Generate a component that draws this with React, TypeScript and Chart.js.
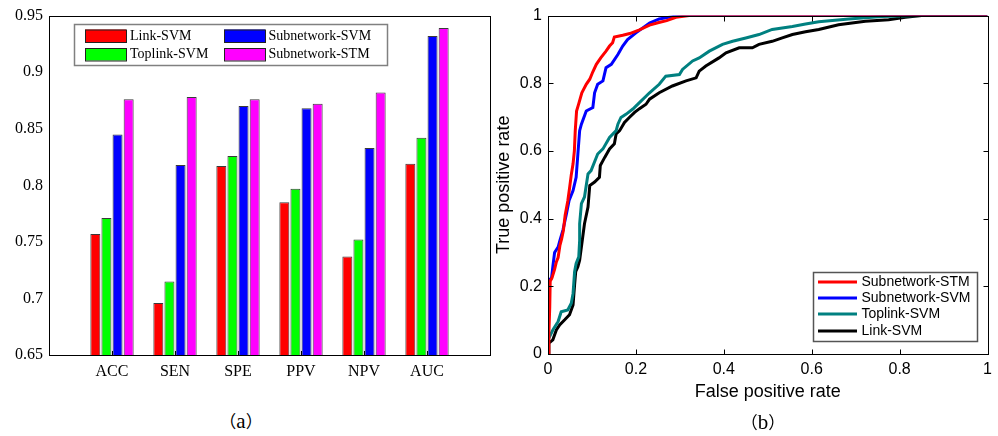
import React, { useEffect, useRef } from 'react';
import { Chart, registerables } from 'chart.js';

Chart.register(...registerables);

// ---------- Panel (a): bar chart data ----------
const categories = ['ACC', 'SEN', 'SPE', 'PPV', 'NPV', 'AUC'];
const linkSvm = [0.757, 0.696, 0.817, 0.785, 0.737, 0.819];
const toplinkSvm = [0.771, 0.715, 0.826, 0.797, 0.752, 0.842];
const subnetworkSvm = [0.845, 0.818, 0.870, 0.868, 0.833, 0.932];
const subnetworkStm = [0.876, 0.878, 0.876, 0.872, 0.882, 0.939];
const barNames = ['Link-SVM', 'Toplink-SVM', 'Subnetwork-SVM', 'Subnetwork-STM'];
const barColors = ['#ff0000', '#00ff00', '#0000ff', '#ff00ff'];
const barYMin = 0.65;
const barYMax = 0.95;
const barYStep = 0.05;

// ---------- Panel (b): ROC curve data ----------
const stmFpr = [0, 0.002, 0.004, 0.005, 0.009, 0.015, 0.019, 0.023, 0.027, 0.031, 0.035, 0.039, 0.045, 0.049, 0.053, 0.057, 0.06, 0.062, 0.065, 0.07, 0.077, 0.087, 0.095, 0.102, 0.11, 0.12, 0.132, 0.14, 0.147, 0.151, 0.17, 0.186, 0.208, 0.231, 0.25, 0.27, 0.291, 0.321, 1];
const stmTpr = [0, 0.06, 0.14, 0.215, 0.225, 0.25, 0.272, 0.285, 0.32, 0.34, 0.365, 0.41, 0.452, 0.49, 0.53, 0.562, 0.6, 0.66, 0.718, 0.74, 0.772, 0.797, 0.812, 0.834, 0.856, 0.875, 0.895, 0.91, 0.92, 0.937, 0.942, 0.947, 0.958, 0.972, 0.979, 0.985, 0.995, 1, 1];

const svmFpr = [0, 0, 0, 0.008, 0.011, 0.015, 0.023, 0.027, 0.034, 0.042, 0.048, 0.057, 0.064, 0.068, 0.072, 0.076, 0.087, 0.102, 0.106, 0.113, 0.125, 0.132, 0.144, 0.159, 0.17, 0.181, 0.2, 0.231, 0.253, 0.283, 0.295, 1];
const svmTpr = [0, 0.052, 0.218, 0.224, 0.258, 0.3, 0.316, 0.335, 0.366, 0.415, 0.454, 0.483, 0.522, 0.591, 0.66, 0.679, 0.718, 0.728, 0.772, 0.797, 0.807, 0.846, 0.856, 0.885, 0.91, 0.929, 0.949, 0.978, 0.99, 0.997, 1, 1];

const toplinkFpr = [0, 0, 0.011, 0.023, 0.03, 0.045, 0.053, 0.057, 0.0605, 0.064, 0.07, 0.072, 0.072, 0.076, 0.083, 0.091, 0.098, 0.113, 0.125, 0.14, 0.155, 0.159, 0.166, 0.178, 0.193, 0.208, 0.231, 0.253, 0.268, 0.299, 0.306, 0.329, 0.344, 0.367, 0.397, 0.42, 0.45, 0.48, 0.51, 0.556, 0.586, 0.616, 0.684, 0.76, 0.85, 1];
const toplinkTpr = [0, 0.042, 0.071, 0.096, 0.125, 0.13, 0.15, 0.179, 0.243, 0.268, 0.287, 0.336, 0.385, 0.444, 0.464, 0.532, 0.542, 0.591, 0.606, 0.64, 0.66, 0.679, 0.699, 0.709, 0.724, 0.743, 0.772, 0.797, 0.821, 0.826, 0.841, 0.866, 0.875, 0.895, 0.915, 0.924, 0.934, 0.944, 0.959, 0.968, 0.975, 0.982, 0.99, 0.997, 1, 1];

const linkFpr = [0, 0.002, 0.011, 0.019, 0.0265, 0.038, 0.049, 0.057, 0.0605, 0.063, 0.068, 0.072, 0.078, 0.083, 0.091, 0.095, 0.106, 0.117, 0.119, 0.129, 0.14, 0.151, 0.155, 0.163, 0.174, 0.185, 0.197, 0.208, 0.223, 0.231, 0.253, 0.283, 0.314, 0.337, 0.344, 0.359, 0.389, 0.405, 0.435, 0.465, 0.48, 0.51, 0.533, 0.556, 0.586, 0.616, 0.661, 0.722, 0.775, 0.813, 0.85, 1];
const linkTpr = [0, 0.032, 0.042, 0.071, 0.086, 0.101, 0.116, 0.145, 0.204, 0.243, 0.258, 0.277, 0.336, 0.385, 0.434, 0.498, 0.508, 0.522, 0.557, 0.581, 0.606, 0.621, 0.65, 0.66, 0.684, 0.699, 0.714, 0.725, 0.738, 0.753, 0.772, 0.792, 0.807, 0.816, 0.836, 0.851, 0.875, 0.89, 0.905, 0.905, 0.915, 0.924, 0.934, 0.944, 0.952, 0.959, 0.973, 0.983, 0.988, 0.995, 1, 1];

const rocNames = ['Subnetwork-STM', 'Subnetwork-SVM', 'Toplink-SVM', 'Link-SVM'];
const rocColors = ['#ff0000', '#0000ff', '#008080', '#000000'];
const rocTickStep = 0.2;

const SERIF = '"Liberation Serif", "Times New Roman", serif';
const SANS = '"Liberation Sans", Arial, sans-serif';

const barLegendPlugin = {
  id: 'barLegend',
  afterDraw(chart: any) {
    const ctx = chart.ctx;
    ctx.save();
    ctx.fillStyle = '#ffffff';
    ctx.fillRect(74, 24, 313, 41);
    ctx.strokeStyle = '#808080';
    ctx.lineWidth = 1.5;
    ctx.strokeRect(74.5, 24.5, 313, 41);
    const pos = [
      [85, 29.5, 130, 36],
      [85, 48, 130, 54.5],
      [224, 29.5, 268.5, 36],
      [224, 48, 268.5, 54.5],
    ];
    ctx.font = `14px ${SERIF}`;
    ctx.textBaseline = 'middle';
    chart.data.datasets.forEach((ds: any, i: number) => {
      const [sx, sy, tx, ty] = pos[i];
      ctx.fillStyle = ds.backgroundColor;
      ctx.fillRect(sx, sy, 41, 12.5);
      ctx.strokeStyle = '#222';
      ctx.lineWidth = 1;
      ctx.strokeRect(sx + 0.5, sy + 0.5, 41, 12.5);
      ctx.fillStyle = '#000';
      ctx.fillText(ds.label, tx, ty);
    });
    // frame + category ticks
    const a = chart.chartArea;
    ctx.strokeStyle = '#000';
    ctx.lineWidth = 1;
    ctx.strokeRect(Math.round(a.left) + 0.5, Math.round(a.top) + 0.5, Math.round(a.right - a.left), Math.round(a.bottom - a.top));
    const xs = chart.scales.x;
    for (let i = 1; i <= categories.length; i++) {
      const px = Math.round(xs.getPixelForValue(i)) + 0.5;
      ctx.beginPath();
      ctx.moveTo(px, a.bottom);
      ctx.lineTo(px, a.bottom - 4);
      ctx.stroke();
    }
    ctx.restore();
  },
};

const rocPlugin = {
  id: 'rocFrame',
  afterDraw(chart: any) {
    const ctx = chart.ctx;
    const a = chart.chartArea;
    ctx.save();
    ctx.strokeStyle = '#000';
    ctx.lineWidth = 1;
    const L = Math.round(a.left) + 0.5, R = Math.round(a.right) + 0.5;
    const T = Math.round(a.top) + 0.5, B = Math.round(a.bottom) + 0.5;
    ctx.strokeRect(L, T, R - L, B - T);
    const xs = chart.scales.x, ys = chart.scales.y;
    xs.ticks.forEach((t: any) => {
      const px = Math.round(xs.getPixelForValue(t.value)) + 0.5;
      ctx.beginPath();
      ctx.moveTo(px, B); ctx.lineTo(px, B - 5);
      ctx.moveTo(px, T); ctx.lineTo(px, T + 5);
      ctx.stroke();
    });
    ys.ticks.forEach((t: any) => {
      const py = Math.round(ys.getPixelForValue(t.value)) + 0.5;
      ctx.beginPath();
      ctx.moveTo(L, py); ctx.lineTo(L + 5, py);
      ctx.moveTo(R, py); ctx.lineTo(R - 5, py);
      ctx.stroke();
    });
    // legend
    ctx.fillStyle = '#fff';
    ctx.fillRect(318, 272, 164, 69);
    ctx.strokeStyle = '#555';
    ctx.lineWidth = 1.5;
    ctx.strokeRect(318.5, 272.5, 164, 69);
    const rows = [282, 298, 314, 331];
    ctx.font = `14px ${SANS}`;
    ctx.textBaseline = 'middle';
    chart.data.datasets.forEach((ds: any, i: number) => {
      ctx.strokeStyle = ds.borderColor;
      ctx.lineWidth = 3;
      ctx.beginPath();
      ctx.moveTo(323, rows[i]);
      ctx.lineTo(362, rows[i]);
      ctx.stroke();
      ctx.fillStyle = '#000';
      ctx.fillText(ds.label, 366.5, rows[i] + 0.5);
    });
    ctx.restore();
  },
};

function fmt(v: number) {
  return String(Number(Number(v).toFixed(2)));
}

export default function App() {
  const barRef = useRef<HTMLCanvasElement>(null);
  const rocRef = useRef<HTMLCanvasElement>(null);

  useEffect(() => {
    const barSeries = [linkSvm, toplinkSvm, subnetworkSvm, subnetworkStm];
    const barChart = new Chart(barRef.current as HTMLCanvasElement, {
      type: 'bar',
      data: {
        labels: ['', ...categories, ''],
        datasets: barSeries.map((vals, i) => ({
          label: barNames[i],
          data: [null, ...vals, null],
          backgroundColor: barColors[i],
          borderColor: '#3a3a3a',
          borderWidth: 1,
          categoryPercentage: 0.705,
          barPercentage: 0.9,
        })),
      },
      options: {
        responsive: false,
        animation: false,
        layout: { padding: { top: 14, right: 8, left: 0, bottom: 0 } },
        plugins: { legend: { display: false }, tooltip: { enabled: false } },
        scales: {
          x: {
            type: 'category',
            offset: false,
            grid: { display: false, drawTicks: false },
            border: { display: false },
            ticks: { font: { family: SERIF, size: 16 }, color: '#000', padding: 7, maxRotation: 0, autoSkip: false },
            afterFit: (s: any) => { s.height = 45; },
          },
          y: {
            min: barYMin,
            max: barYMax,
            grid: { display: false, drawTicks: false },
            border: { display: false },
            ticks: { stepSize: barYStep, callback: (v: any) => fmt(v), font: { family: SERIF, size: 16 }, color: '#000', padding: 6 },
            afterFit: (s: any) => { s.width = 49; },
          },
        },
      } as any,
      plugins: [barLegendPlugin],
    });

    const rocSeries = [
      [stmFpr, stmTpr],
      [svmFpr, svmTpr],
      [toplinkFpr, toplinkTpr],
      [linkFpr, linkTpr],
    ];
    const rocChart = new Chart(rocRef.current as HTMLCanvasElement, {
      type: 'line',
      data: {
        datasets: rocSeries.map(([xs, ys], i) => ({
          label: rocNames[i],
          data: xs.map((x, j) => ({ x, y: ys[j] })),
          borderColor: rocColors[i],
          backgroundColor: rocColors[i],
          borderWidth: 3,
          pointRadius: 0,
          tension: 0,
          fill: false,
        })),
      },
      options: {
        responsive: false,
        animation: false,
        layout: { padding: { top: 14, right: 9, left: 0, bottom: 0 } },
        plugins: { legend: { display: false }, tooltip: { enabled: false } },
        scales: {
          x: {
            type: 'linear',
            min: 0,
            max: 1,
            grid: { display: false, drawTicks: false },
            border: { display: false },
            ticks: { stepSize: rocTickStep, callback: (v: any) => fmt(v), font: { family: SANS, size: 16 }, color: '#000', padding: 6, maxRotation: 0 },
            title: { display: true, text: 'False positive rate', font: { family: SANS, size: 18, lineHeight: 1 }, color: '#000', padding: { top: 0, bottom: 9 } },
            afterFit: (s: any) => { s.height = 56; },
          },
          y: {
            type: 'linear',
            min: 0,
            max: 1,
            grid: { display: false, drawTicks: false },
            border: { display: false },
            ticks: { stepSize: rocTickStep, callback: (v: any) => fmt(v), font: { family: SANS, size: 16 }, color: '#000', padding: 6 },
            title: { display: true, text: 'True positive rate', font: { family: SANS, size: 18, lineHeight: 1 }, color: '#000', padding: { top: 0, bottom: 0 } },
            afterFit: (s: any) => { s.width = 53; },
          },
        },
      } as any,
      plugins: [rocPlugin],
    });

    return () => {
      barChart.destroy();
      rocChart.destroy();
    };
  }, []);

  const caption: any = {
    position: 'absolute',
    width: 100,
    textAlign: 'center',
    fontSize: 20,
    lineHeight: '22px',
    color: '#000',
    whiteSpace: 'nowrap',
    textSpacingTrim: 'space-all',
  };
  const paren: React.CSSProperties = { fontFamily: '"Noto Sans CJK SC", sans-serif', fontSize: 17 };
  const letter: React.CSSProperties = { fontFamily: '"Liberation Serif", serif', fontSize: 21 };

  return (
    <div style={{ position: 'fixed', left: 0, top: 0, width: 998, height: 436, background: '#fff', overflow: 'hidden' }}>
      <canvas ref={barRef} width={498} height={400} style={{ position: 'absolute', left: 0, top: 0, width: 498, height: 400 }} />
      <canvas ref={rocRef} width={503} height={410} style={{ position: 'absolute', left: 495, top: 0, width: 503, height: 410 }} />
      <div style={{ ...caption, left: 191, top: 410 }}>
        <span style={paren}>（</span><span style={letter}>a</span><span style={paren}>）</span>
      </div>
      <div style={{ ...caption, left: 713, top: 411 }}>
        <span style={paren}>（</span><span style={letter}>b</span><span style={paren}>）</span>
      </div>
    </div>
  );
}
